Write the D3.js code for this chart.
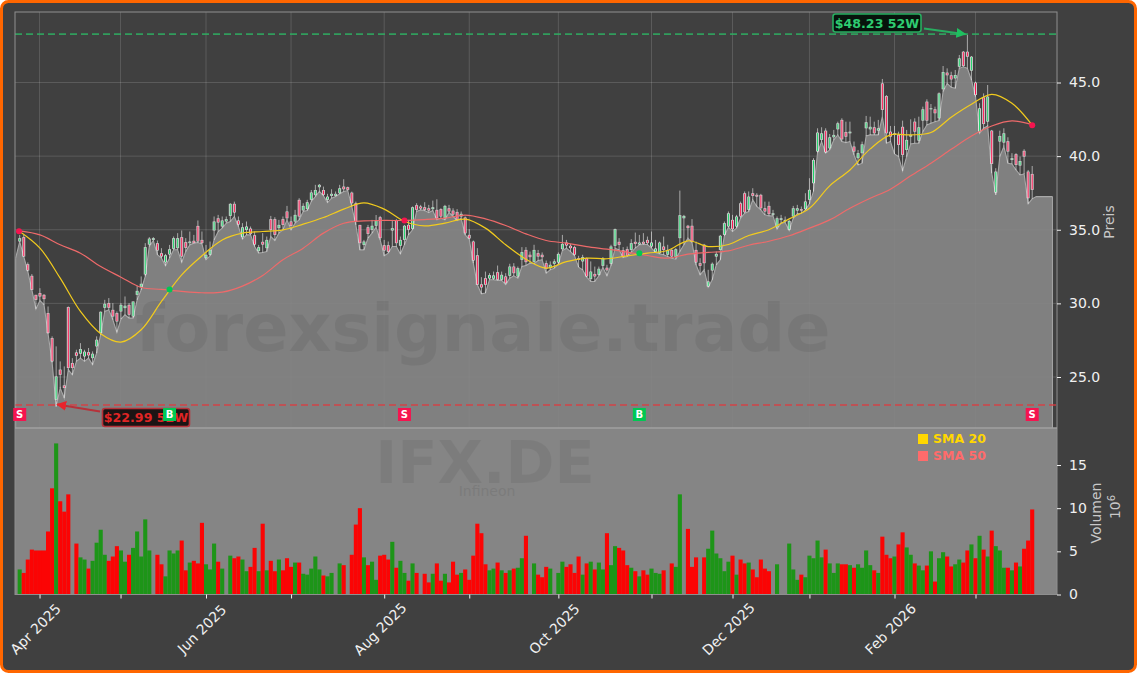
<!DOCTYPE html>
<html><head><meta charset="utf-8">
<script src="https://cdn.jsdelivr.net/npm/d3@7/dist/d3.min.js"></script>
<style>html,body{margin:0;padding:0;background:#fff;overflow:hidden}svg{display:block}text{font-family:"DejaVu Sans",sans-serif}</style>
</head><body><svg id="c" width="1137" height="673"></svg>
<script>
const highs=[34.65,34.65,32.78,31.99,30.58,31.03,30.63,29.79,27.76,27.08,
26.06,25.72,29.79,26.28,26.85,27.3,26.85,26.97,26.74,27.76,
29.45,30.24,30.36,30.02,29.45,30.02,30.47,30.02,30.13,31.2,
31.83,34.09,34.5,34.5,34.27,33.75,33.36,33.97,34.54,34.77,
34.95,34.43,34.88,34.65,35.63,34.88,33.97,34.2,35.9,36.01,
35.9,35.9,36.8,36.91,35.9,35.45,35.56,35.22,34.88,33.97,
34.77,34.54,35.94,35.85,35.67,35.9,36.62,35.9,36.35,37.14,
36.8,37.03,37.7,38.05,38.11,37.93,37.44,37.75,37.6,38.05,
38.43,37.93,37.59,36.91,35.33,34.31,35.33,35.67,36.0,35.94,
34.31,34.2,35.67,35.72,34.54,35.33,35.67,36.58,36.8,36.69,
36.87,36.69,36.98,37.07,36.46,36.69,36.69,36.46,36.4,36.24,
35.9,35.04,34.27,33.75,31.78,32.16,32.05,32.16,32.57,32.16,
32.05,32.69,32.73,32.5,33.82,33.82,33.52,33.98,33.63,33.46,
32.91,32.85,33.0,33.46,34.65,34.31,34.04,33.91,33.23,33.3,
33.11,32.85,32.5,32.5,33.14,32.62,33.98,35.08,34.43,33.82,
33.86,34.36,34.81,34.65,34.77,34.54,34.88,34.31,34.2,34.54,
33.98,33.75,33.75,37.66,36.01,35.33,35.72,34.2,33.07,34.04,
32.28,32.78,33.52,34.65,35.56,36.24,36.01,36.01,36.91,37.6,
37.6,37.82,37.48,37.44,36.91,36.91,36.35,35.9,36.01,35.9,
35.67,36.62,36.69,36.58,37.48,38.5,39.86,41.89,41.96,41.89,
41.5,41.78,42.34,42.57,42.34,42.34,40.99,40.42,40.99,42.73,
42.68,42.34,42.46,45.24,44.15,42.05,42.05,41.66,42.41,41.78,
42.5,42.57,42.68,43.36,43.86,43.54,43.36,44.33,46.12,45.96,
45.73,45.85,46.87,47.14,48.23,46.8,45.06,43.59,44.26,44.83,
41.78,39.18,41.73,41.89,41.28,40.2,40.2,39.97,40.47,39.06,39.33];
const bodyTops=[34.43,34.5,32.66,31.87,30.58,30.7,30.58,29.34,27.64,25.04,
25.5,24.43,29.75,25.95,26.67,26.9,26.72,26.69,26.58,27.53,
29.43,29.97,30.02,29.56,29.34,29.9,29.84,29.9,30.13,30.85,
31.33,33.82,34.4,34.43,34.09,33.41,33.27,33.68,34.43,34.43,
34.5,34.16,34.2,34.25,35.26,34.31,33.3,33.64,35.56,35.78,
35.63,35.72,36.76,36.76,35.63,35.17,35.22,35.08,34.63,33.82,
34.18,34.31,35.72,35.72,35.33,35.72,36.24,35.56,36.01,37.03,
36.62,36.87,37.53,37.7,38.05,37.7,37.25,37.44,37.44,37.82,
37.93,37.89,37.52,36.8,35.33,34.2,35.17,35.27,35.63,35.85,
33.95,33.95,35.11,35.63,34.31,35.27,35.33,36.53,36.67,36.58,
36.53,36.46,36.53,36.35,36.4,36.62,36.46,36.3,36.21,36.08,
35.83,34.65,34.2,33.27,31.3,31.71,31.92,31.9,32.12,31.94,
31.83,32.5,32.5,32.39,33.48,33.63,33.3,33.63,33.41,33.3,
32.73,32.62,32.85,33.36,34.04,34.13,33.91,33.82,33.07,33.14,
33.07,32.16,32.0,32.35,33.05,32.42,33.86,35.04,34.18,33.61,
33.68,34.09,34.18,34.13,34.18,34.31,34.13,33.73,34.13,33.86,
33.63,33.63,33.68,35.99,35.94,35.27,35.27,33.63,32.73,33.98,
31.49,32.69,33.36,34.59,35.45,36.12,35.67,35.9,36.8,37.48,
37.25,37.48,37.37,37.37,36.46,36.62,36.12,35.78,35.78,35.67,
35.6,36.46,36.46,36.4,36.92,37.71,39.74,41.6,41.55,41.73,
41.28,41.44,42.23,42.46,41.64,41.66,40.65,40.2,40.8,42.3,
41.99,41.96,41.89,44.94,44.08,41.66,41.55,41.44,41.99,41.1,
41.44,42.34,41.96,43.18,43.7,43.25,43.18,44.26,45.71,45.67,
45.49,45.51,46.64,47.09,47.09,46.75,44.99,43.25,43.99,44.04,
41.73,38.95,41.37,41.55,41.01,39.86,40.13,39.67,40.36,38.95,38.79];
const bodyBottoms=[34.2,33.18,32.23,30.92,30.24,30.47,30.29,27.98,26.06,23.46,
25.15,24.25,25.61,25.61,26.44,26.58,26.4,26.47,26.28,27.08,
27.98,29.7,29.7,29.11,28.77,29.45,29.68,29.23,29.11,30.58,
31.1,31.96,33.99,34.31,33.59,33.18,32.78,33.32,33.7,33.75,
33.18,33.77,34.09,34.09,34.2,34.09,33.07,33.3,34.95,35.49,
35.22,35.56,35.94,36.17,35.35,34.5,34.99,34.72,33.99,33.55,
33.99,33.75,34.99,34.65,35.11,35.33,35.78,35.26,35.56,35.9,
36.31,36.4,37.03,37.35,37.89,37.37,37.03,37.3,37.3,37.48,
37.75,37.71,36.8,35.56,34.09,33.97,34.72,35.0,35.27,34.43,
33.59,33.5,34.95,34.09,33.91,34.31,35.0,35.06,36.35,36.44,
36.35,36.3,36.4,35.78,35.9,35.78,36.24,36.03,35.67,35.9,
34.76,34.41,32.91,31.26,31.08,31.26,31.69,31.67,31.6,31.6,
31.37,31.87,32.05,31.83,32.96,32.8,33.14,32.82,33.18,33.14,
32.35,32.39,32.69,32.78,33.68,33.93,33.75,33.3,32.96,32.85,
31.83,31.65,31.83,31.94,32.55,32.24,32.69,33.91,33.98,33.18,
33.23,33.63,34.04,34.0,34.04,34.09,33.86,33.5,33.41,33.63,
33.3,33.18,33.14,34.43,35.78,35.11,34.2,32.78,32.55,32.73,
31.15,32.23,33.18,33.63,34.65,35.22,35.04,35.22,35.9,36.19,
36.35,37.3,37.25,36.46,36.24,36.06,36.01,35.17,35.67,35.56,
35.0,35.9,36.3,36.3,36.4,37.03,38.16,40.31,41.1,40.26,
40.53,41.28,41.82,41.14,41.32,41.55,40.31,39.86,40.2,41.89,
41.82,41.55,41.73,43.14,41.55,41.32,41.44,40.76,40.08,40.42,
41.32,41.66,41.05,42.41,42.41,43.18,42.91,42.57,44.54,45.49,
45.21,45.28,46.07,46.12,46.75,45.8,44.15,41.66,42.18,42.34,
39.47,37.53,40.99,40.92,40.31,39.74,39.4,39.36,39.97,37.14,37.71];
const lows=[34.2,33.18,32.17,30.92,29.61,30.2,29.9,27.94,25.99,22.99,
24.25,23.57,25.5,25.15,26.06,26.28,26.06,26.28,25.83,26.63,
27.87,29.45,29.56,28.89,28.03,28.93,29.23,29.0,29.0,30.24,
30.92,31.83,33.86,34.27,33.3,33.07,32.55,33.07,33.64,33.64,
32.78,33.52,33.97,34.09,34.13,34.04,32.96,33.23,34.31,34.88,
35.11,35.45,35.56,35.9,35.22,34.36,34.65,34.65,33.86,33.41,
33.45,33.52,34.54,34.27,34.77,34.99,35.67,34.99,35.45,35.67,
36.24,36.31,36.92,37.25,37.6,37.3,36.85,37.14,37.26,37.43,
37.6,37.66,36.57,35.33,33.63,33.63,34.43,34.77,35.17,34.31,
33.23,33.41,33.86,33.86,33.36,33.98,34.65,35.0,36.24,36.35,
36.3,36.17,36.3,35.67,35.78,35.67,36.17,35.9,35.63,35.78,
34.65,34.36,32.73,31.26,30.65,30.7,31.6,31.6,31.56,31.56,
31.28,31.71,31.87,31.71,32.5,32.57,32.73,32.69,32.91,32.96,
32.05,32.28,32.39,32.66,33.59,33.75,33.52,33.23,32.46,32.28,
31.78,31.49,31.49,31.87,32.44,31.87,32.57,33.75,33.63,33.11,
33.18,33.46,33.75,33.98,34.0,34.0,33.75,33.46,33.36,33.3,
33.18,33.07,33.0,33.52,33.98,34.43,34.13,32.62,31.94,32.28,
31.1,31.6,32.62,32.96,34.59,35.17,34.88,35.11,35.78,36.12,
36.24,37.03,36.58,36.35,36.01,35.94,35.94,35.04,35.45,35.49,
34.95,35.78,36.08,36.12,36.35,36.76,37.6,40.24,40.99,40.2,
40.42,41.1,41.44,40.99,40.92,40.99,40.08,39.4,39.52,41.37,
41.44,41.44,41.44,42.68,40.87,40.99,40.15,39.97,38.99,39.97,
40.83,40.87,40.87,41.66,42.11,42.23,42.34,42.41,44.38,44.94,
44.67,44.6,45.96,46.07,45.96,45.17,44.04,41.55,41.89,42.05,
38.84,37.37,39.97,40.65,39.52,39.47,39.06,38.72,38.79,36.76,37.1];
const sides=("grrrrrrrrg"+"rrrrrggrgg"+"ggrrrggrgg"+"ggggrrgggg"+"rrgrrrgggr"+"gggrrggrrg"+"rgrrgrrrgr"
+"gggggrgggg"+"rrrrrgrggr"+"rrgrggrgrr"+"rrgrrgrrrg"+"rrrrrrggrg"+"rgrggrrgrr"+"rggggrrrrg"
+"rgrggrggrr"+"rgrgrrgggr"+"grgggrrrrr"+"ggggggrgrr"+"grrrrrgggg"+"gggrgggggr"+"gggrrgrggg"
+"grgrrrgrrg"+"grggrgrggr"+"rggrrgrgrg"+"rgggrgrgrrr").split("");
const volumes=[2.9,2.5,4.05,5.2,5.1,5.1,5.1,7.3,12.3,17.5,
10.8,9.6,11.6,0,5.9,4.3,4.05,3.0,3.9,6.0,
7.5,4.6,3.9,4.4,5.6,5.1,3.8,4.6,5.4,7.3,
4.4,8.7,5.1,0,4.6,3.5,2.1,5.1,4.75,5.1,
6.25,2.8,3.7,3.9,3.6,8.3,3.5,2.9,5.9,3.8,
3.0,0,4.5,4.2,4.4,4.05,2.7,3.2,5.4,2.7,
8.2,2.8,3.9,2.7,4.05,2.8,4.2,3.2,3.7,3.7,
2.4,2.3,3.0,4.4,2.9,2.2,2.1,2.5,0,3.6,
3.4,0,4.6,8.1,10.0,4.3,3.4,3.8,1.7,4.5,
4.6,4.05,6.1,3.1,3.9,2.5,1.6,3.6,2.5,0,
2.4,1.4,2.4,3.6,1.6,2.4,1.4,3.8,2.3,2.5,
2.9,1.7,4.5,8.2,7.1,3.5,2.8,3.0,3.7,2.8,
2.5,2.8,3.0,3.1,4.2,6.8,0,3.6,2.3,2.0,
3.2,3.0,0,2.5,3.8,3.2,3.5,2.5,4.4,2.3,
3.6,3.8,2.9,3.7,2.9,7.1,3.4,5.6,5.4,5.1,
3.4,3.1,2.7,2.1,2.8,2.3,3.0,2.5,2.4,2.8,
0,3.6,3.2,11.6,0,7.6,3.2,4.3,0,4.3,
5.3,7.4,4.75,4.2,2.7,3.8,4.5,2.3,4.05,3.6,
3.7,2.9,2.0,4.05,3.0,2.7,0,3.5,0,0,
5.9,2.9,1.7,2.3,2.0,4.5,4.2,6.25,4.3,5.2,
3.6,2.5,3.6,3.5,3.5,3.4,3.1,3.5,3.1,5.1,
3.4,2.8,2.5,6.7,4.6,4.2,4.4,5.8,7.2,5.45,
4.6,3.6,3.35,2.8,3.35,5.0,1.5,4.2,4.9,4.4,
3.25,3.5,4.05,3.7,5.1,5.8,4.2,6.8,5.2,4.4,
7.4,5.6,5.1,3.1,3.1,2.8,3.7,3.25,5.3,6.25,9.85];
const smaIndex=d3.range(0,251,5);
const sma20=[34.88,33.75,31.71,29.45,27.94,27.37,28.21,30.13,31.94,33.23,34.31,34.77,34.88,34.99,35.38,35.83,36.4,36.83,36.4,35.58,35.26,35.45,35.72,35.11,33.98,33.0,32.39,32.84,33.07,33.03,33.23,33.41,33.59,34.25,33.86,34.0,34.61,35.0,35.74,36.46,37.98,39.06,40.49,41.44,41.44,41.6,42.64,43.52,44.2,43.59,42.1];
const sma50=[34.92,34.65,33.98,33.41,32.5,31.78,31.08,30.95,30.81,30.72,30.76,31.17,31.9,32.96,33.75,34.77,35.44,35.6,35.63,35.63,35.69,35.79,35.99,35.74,35.29,34.72,34.27,34.09,33.86,33.68,33.48,33.25,33.07,33.34,33.46,33.57,33.95,34.22,34.59,35.11,35.67,36.46,37.14,37.75,38.66,39.52,40.46,41.37,42.05,42.39,42.14];
const areaLead=33.07, areaTail=37.25;
const signalIndex=[0,37,95,153,250];
const signalPrice=[34.9,30.95,35.63,33.4,42.1];
const signalType=["S","B","S","B","S"];
const monthTickIndex=[4.9,24.9,46,67,90,111,133,156,176,195,216,236];
const monthTickLabel=["Apr 2025","","Jun 2025","","Aug 2025","","Oct 2025","","Dec 2025","","Feb 2026",""];
const priceTicks=[25,30,35,40,45], volumeTicks=[0,5,10,15];
const high52=48.23, low52=22.99, highIdx=234, lowIdx=9;
const high52Line=48.28, low52Line=23.1;

const W=1137,H=673,L=15,R=1057,T=12,M=428,B=594.5;
const svg=d3.select("#c");
const x=d3.scaleLinear().domain([0,250]).range([19.7,1032.2]);
const y=d3.scaleLinear().domain([45,25]).range([82.5,377]);
const v=d3.scaleLinear().domain([0,15]).range([B,465]);
const defs=svg.append("defs");
defs.append("clipPath").attr("id","top").append("rect").attr("x",L).attr("y",T).attr("width",R-L).attr("height",M-T);
defs.append("clipPath").attr("id","bot").append("rect").attr("x",L).attr("y",M).attr("width",R-L).attr("height",B-M);
[["ag","#1fc060"],["ar","#e8242c"]].forEach(([id,c])=>{
 defs.append("marker").attr("id",id).attr("viewBox","0 0 10 10").attr("refX",9).attr("refY",5).attr("markerWidth",5).attr("markerHeight",5).attr("orient","auto")
 .append("path").attr("d","M0,0L10,5L0,10z").attr("fill",c);
});
svg.append("rect").attr("x",1.5).attr("y",1.5).attr("width",W-3).attr("height",H-3).attr("rx",7).attr("fill","#404040").attr("stroke","#ff6600").attr("stroke-width",3);
svg.append("rect").attr("x",L).attr("y",M).attr("width",R-L).attr("height",B-M).attr("fill","#858585");

const topG=svg.append("g").attr("clip-path","url(#top)");
const gridC="rgba(255,255,255,0.14)";
priceTicks.forEach(t=>topG.append("line").attr("x1",L).attr("x2",R).attr("y1",y(t)).attr("y2",y(t)).attr("stroke",gridC));
monthTickIndex.forEach(t=>topG.append("line").attr("x1",x(t)).attr("x2",x(t)).attr("y1",T).attr("y2",M).attr("stroke",gridC));

const areaData=[[-1,areaLead]].concat(lows.map((d,i)=>[i,d]),d3.range(251,256).map(i=>[i,areaTail]));
const area=d3.area().x(d=>x(d[0])).y1(d=>y(d[1])).y0(M);
topG.append("path").attr("d",area(areaData)+"").attr("fill","rgba(133,133,133,0.93)");
topG.append("path").attr("d",d3.line().x(d=>x(d[0])).y(d=>y(d[1]))(areaData)).attr("fill","none").attr("stroke","#a8a8a8").attr("stroke-width",1.1);
topG.append("line").attr("x1",x(255)).attr("x2",x(255)).attr("y1",y(areaTail)).attr("y2",M).attr("stroke","#a8a8a8");
topG.append("line").attr("x1",x(-1)).attr("x2",x(-1)).attr("y1",y(areaLead)).attr("y2",M).attr("stroke","#a8a8a8");

// watermarks
topG.append("text").attr("x",483).attr("y",351).attr("text-anchor","middle").attr("font-size",66.7).attr("font-weight","bold").attr("fill","#505050").attr("opacity",0.17).text("forexsignale.trade");

// candles
const c=topG.append("g").selectAll("g").data(d3.range(highs.length)).join("g");
c.append("line").attr("x1",i=>x(i)).attr("x2",i=>x(i)).attr("y1",i=>y(highs[i])).attr("y2",i=>y(lows[i])).attr("stroke","rgba(255,255,255,0.55)").attr("stroke-width",1);
c.append("rect").attr("x",i=>x(i)-1.5).attr("width",3).attr("y",i=>y(bodyTops[i])).attr("height",i=>Math.max(1,y(bodyBottoms[i])-y(bodyTops[i]))).attr("fill","rgba(255,255,255,0.72)");
c.append("rect").attr("x",i=>x(i)-.5).attr("width",1).attr("y",i=>y(bodyTops[i])+.5).attr("height",i=>Math.max(.5,y(bodyBottoms[i])-y(bodyTops[i])-1)).attr("fill",i=>sides[i]==="g"?"#1fd46a":"#ff1450");

// SMA
const sl=d3.line().x((d,i)=>x(smaIndex[i])).y(d=>y(d)).curve(d3.curveCatmullRom.alpha(.5));
topG.append("path").attr("d",sl(sma50)).attr("fill","none").attr("stroke","#ee6a6a").attr("stroke-width",1.2);
topG.append("path").attr("d",sl(sma20)).attr("fill","none").attr("stroke","#f2cb1d").attr("stroke-width",1.2);

// 52W lines
[[high52Line,"#2fae62"],[low52Line,"#e0393e"]].forEach(([p,col])=>svg.append("line").attr("x1",L).attr("x2",R).attr("y1",y(p)).attr("y2",y(p)).attr("stroke",col).attr("stroke-width",1.7).attr("stroke-dasharray","7 4").attr("opacity",.85));

// volumes
const botG=svg.append("g").attr("clip-path","url(#bot)");
botG.selectAll("rect").data(volumes).join("rect").attr("x",(d,i)=>x(i)-2.05).attr("width",4.1).attr("y",d=>v(d)).attr("height",d=>B-v(d)).attr("fill",(d,i)=>sides[i]==="g"?"#1a9615":"#ff0000").attr("opacity",.97);
botG.append("text").attr("x",485).attr("y",483).attr("text-anchor","middle").attr("font-size",59).attr("font-weight","bold").attr("fill","#000").attr("opacity",.06).text("IFX.DE");
botG.append("text").attr("x",487).attr("y",496).attr("text-anchor","middle").attr("font-size",14).attr("fill","#000").attr("opacity",.07).text("Infineon");

// frame
svg.append("rect").attr("x",L).attr("y",T).attr("width",R-L).attr("height",B-T).attr("fill","none").attr("stroke","#8f8f8f");
svg.append("line").attr("x1",L).attr("x2",R).attr("y1",M).attr("y2",M).attr("stroke","#a0a0a0").attr("stroke-width",1.5);

// axes
function style(g){g.select(".domain").remove();g.selectAll("line").attr("stroke","#f0f0f0");g.selectAll("text").attr("fill","#f0f0f0").attr("font-size",14).style("font-family","DejaVu Sans");}
svg.append("g").attr("transform",`translate(${R},0)`).call(d3.axisRight(y).tickValues(priceTicks).tickFormat(d3.format(".1f")).tickSize(4).tickPadding(8)).call(style);
svg.append("g").attr("transform",`translate(${R},0)`).call(d3.axisRight(v).tickValues(volumeTicks).tickFormat(d3.format("d")).tickSize(4).tickPadding(8)).call(style);
const xa=svg.append("g").attr("transform",`translate(0,${B})`).call(d3.axisBottom(x).tickValues(monthTickIndex).tickFormat((d,i)=>monthTickLabel[i]).tickSize(4)).call(style);
xa.selectAll("text").attr("text-anchor","middle").attr("dy",0).attr("y",0).attr("transform","translate(-1,38) rotate(-45)");

const lab=(t,xx,yy,fs=14)=>svg.append("text").attr("transform",`translate(${xx},${yy}) rotate(-90)`).attr("text-anchor","middle").attr("font-size",fs).attr("fill","#c8c8c8").text(t);
lab("Preis",1114,222);
lab("Volumen",1101,513);
const off=svg.append("text").attr("transform","translate(1120,507) rotate(-90)").attr("text-anchor","middle").attr("font-size",14).attr("fill","#c8c8c8");
off.append("tspan").text("10");
off.append("tspan").attr("dy",-5).attr("font-size",10).text("6");

// legend
[["SMA 20","#ffd700",434],["SMA 50","#ff6b6b",451]].forEach(([t,col,yy])=>{
 svg.append("rect").attr("x",918).attr("y",yy).attr("width",10).attr("height",10).attr("fill",col);
 svg.append("text").attr("x",933).attr("y",yy+9).attr("font-size",12.5).attr("font-weight","bold").attr("fill",col).text(t);
});

// 52W annotations
function note(txt,bx,by,bw,bh,fill,stroke,tc,mk,ax,ay,tx,ty){
 svg.append("line").attr("x1",ax).attr("y1",ay).attr("x2",tx).attr("y2",ty).attr("stroke",stroke).attr("stroke-width",2).attr("marker-end",`url(#${mk})`);
 svg.append("rect").attr("x",bx).attr("y",by).attr("width",bw).attr("height",bh).attr("rx",2.5).attr("fill",fill).attr("stroke",stroke).attr("stroke-width",1.6);
 svg.append("text").attr("x",bx+bw/2).attr("y",by+bh/2+4.6).attr("text-anchor","middle").attr("font-size",12.6).attr("font-weight","bold").attr("fill",tc).text(txt);
}
note("$48.23 52W",833,14,88,18,"#07140c","#27ae60","#2ecc71","ag",924,28.5,x(highIdx)-2,y(high52Line));
note("$22.99 52W",102.5,408.5,87,18,"#1c1414","#b7323a","#e02525","ar",100,411.5,x(lowIdx)+1,y(low52Line)-.5);

// signals
signalIndex.forEach((si,k)=>{
 const col=signalType[k]==="S"?"#f5144f":"#00c853";
 svg.append("circle").attr("cx",x(si)-(k==0?.7:0)).attr("cy",y(signalPrice[k])).attr("r",3).attr("fill",col);
 svg.append("rect").attr("x",x(si)-6.5).attr("y",408).attr("width",13).attr("height",13).attr("fill",col);
 svg.append("text").attr("x",x(si)).attr("y",418.3).attr("text-anchor","middle").attr("font-size",10).attr("font-weight","bold").attr("fill","#fff").text(signalType[k]);
});
</script></body></html>
